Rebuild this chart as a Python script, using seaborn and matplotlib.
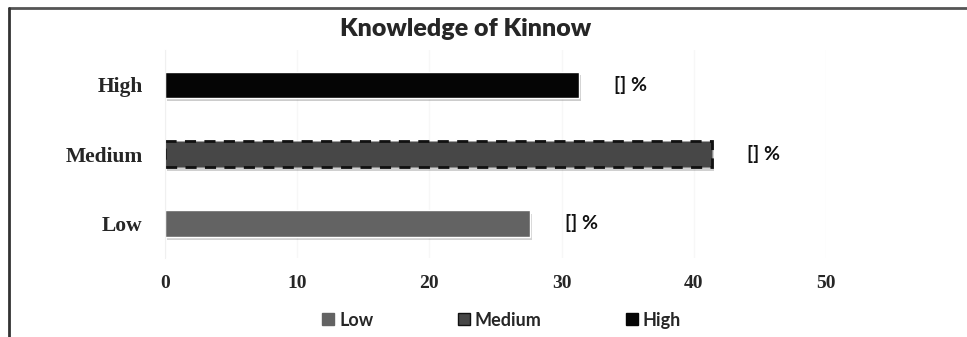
#!/usr/bin/env python3
"""Knowledge of Kinnow - horizontal bar chart"""

import pandas as pd
import matplotlib
matplotlib.use("Agg")
import matplotlib.pyplot as plt
import matplotlib.patheffects as pe
from matplotlib.lines import Line2D
import seaborn as sns

# data
levels = ["High", "Medium", "Low"]
percent = [31.3, 41.4, 27.6]
bar_labels = ["[] %", "[] %", "[] %"]
legend_order = ["Low", "Medium", "High"]
colors = {"Low": "#636363", "Medium": "#474747", "High": "#050505"}

df = pd.DataFrame({"level": levels, "percent": percent})

sns.set_style("white")
serif = "Liberation Serif"
sans = ["Lato", "DejaVu Sans"]

fig = plt.figure(figsize=(9.67, 3.37), dpi=100)
ax = fig.add_axes([0.1706, 0.2344, 0.6836, 0.6172])

sns.barplot(data=df, y="level", x="percent", hue="level", order=levels,
            hue_order=levels, palette=colors, width=0.38, legend=False,
            orient="h", ax=ax)

shadow = [pe.SimplePatchShadow(offset=(1.5, -2.5), alpha=0.2), pe.Normal()]
for patch, lvl in zip(ax.patches, levels):
    patch.set_path_effects(shadow)
    if lvl == "Medium":
        patch.set_edgecolor("#111111")
        patch.set_linestyle((0, (4, 3)))
        patch.set_linewidth(2)

for cont, lab in zip(ax.containers, bar_labels):
    ax.bar_label(cont, labels=[lab], padding=25, fontsize=14,
                 fontweight="bold", family=sans, color="#111111")

ax.set_xlim(0, 50)
ax.set_xticks([0, 10, 20, 30, 40, 50])
ax.set_xlabel("")
ax.set_ylabel("")
for s in ["top", "right", "bottom"]:
    ax.spines[s].set_visible(False)
ax.spines["left"].set_color("#f0f0f0")
ax.grid(axis="x", color="#f7f7f7", linewidth=1)
ax.set_axisbelow(True)
ax.tick_params(axis="both", length=0)
ax.tick_params(axis="x", pad=12)
ax.tick_params(axis="y", pad=16)
for t in ax.get_xticklabels():
    t.set_fontfamily(serif)
    t.set_fontweight("bold")
    t.set_fontsize(14)
for t in ax.get_yticklabels():
    t.set_fontfamily(serif)
    t.set_fontweight("bold")
    t.set_fontsize(15.5)

fig.text(0.481, 0.915, "Knowledge of Kinnow", ha="center", va="center",
         fontsize=18, fontweight="heavy", family=sans)

handles = [Line2D([], [], marker="s", linestyle="", markersize=8,
                  markerfacecolor=colors[k],
                  markeredgecolor="#111111" if k == "Medium" else colors[k])
           for k in legend_order]
leg = fig.legend(handles, legend_order, loc="center", ncol=3,
                 bbox_to_anchor=(0.518, 0.05), frameon=False,
                 handlelength=0.8, handletextpad=0.2, columnspacing=4.6,
                 prop={"family": sans, "weight": "bold", "size": 13})

# outer frame (top and left edges)
fig.add_artist(Line2D([0.0093, 1.0], [0.976, 0.976], color="#555555",
                      linewidth=2, transform=fig.transFigure))
fig.add_artist(Line2D([0.0093, 0.0093], [0.0, 0.976], color="#333333",
                      linewidth=2, transform=fig.transFigure))

fig.savefig("out.png", dpi=100)
